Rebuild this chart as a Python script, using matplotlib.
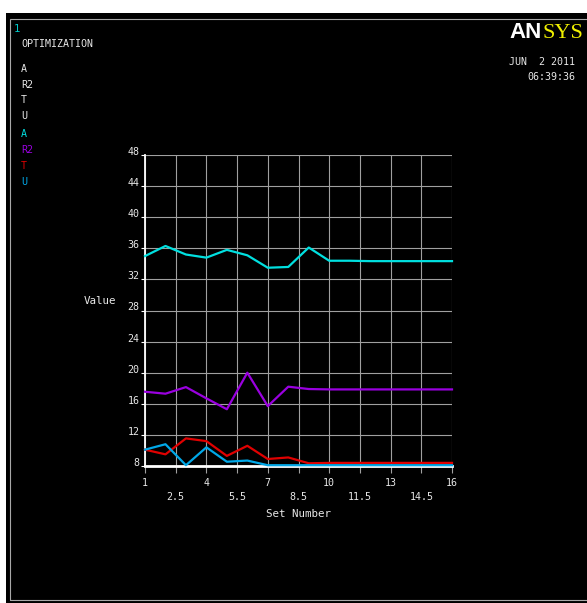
import matplotlib
matplotlib.use("Agg")
import matplotlib.pyplot as plt
from matplotlib.patches import Rectangle

W, H = 587, 603
sets = list(range(1, 17))
A  = [35.0, 36.3, 35.2, 34.8, 35.8, 35.1, 33.5, 33.6, 36.1, 34.4, 34.4, 34.35, 34.35, 34.35, 34.35, 34.35]
R2 = [17.55, 17.3, 18.15, 16.7, 15.3, 20.0, 15.7, 18.2, 17.9, 17.85, 17.85, 17.85, 17.85, 17.85, 17.85, 17.85]
T  = [10.1, 9.5, 11.55, 11.2, 9.3, 10.6, 8.9, 9.1, 8.35, 8.4, 8.4, 8.4, 8.4, 8.4, 8.4, 8.4]
U  = [10.1, 10.8, 8.1, 10.4, 8.55, 8.7, 8.1, 8.1, 8.1, 8.1, 8.1, 8.1, 8.1, 8.1, 8.1, 8.1]
series_names = ["A", "R2", "T", "U"]
series_colors = ["#00e0e0", "#9a00e0", "#e00000", "#00a8e8"]
x_major = [1, 4, 7, 10, 13, 16]
x_minor = [2.5, 5.5, 8.5, 11.5, 14.5]
y_ticks = [8, 12, 16, 20, 24, 28, 32, 36, 40, 44, 48]

MONO = "DejaVu Sans Mono"
FS = 7.2
TXT = "#e8e8e8"

fig = plt.figure(figsize=(W / 100, H / 100), dpi=100, facecolor="white")

def fx(x):
    return x / W

def fy(y):
    return 1 - y / H

# black screen background and thin gray frame
fig.add_artist(Rectangle((fx(6), fy(603)), fx(587) - fx(6), fy(13) - fy(603),
                         transform=fig.transFigure, facecolor="black", edgecolor="none", zorder=0))
fig.add_artist(Rectangle((fx(9.5), fy(600)), fx(600) - fx(9.5), fy(18.5) - fy(600),
                         transform=fig.transFigure, facecolor="none", edgecolor="#a8a8a8",
                         linewidth=0.8, zorder=1))

ax = fig.add_axes([fx(145), fy(466), fx(452) - fx(145), fy(155) - fy(466)])
ax.set_facecolor("black")
data = [A, R2, T, U]
for vals, col in zip(data, series_colors):
    ax.plot(sets, vals, color=col, linewidth=1.6, zorder=3, clip_on=False)

ax.set_xlim(1, 16)
ax.set_ylim(8, 48)
ax.set_xticks(x_major)
ax.set_xticklabels([str(v) for v in x_major])
ax.set_xticks(x_minor, minor=True)
ax.set_xticklabels([str(v) for v in x_minor], minor=True)
ax.set_yticks(y_ticks)
ax.set_yticklabels([str(v) for v in y_ticks])

ax.grid(which="both", color="#a0a0a0", linewidth=0.8, zorder=1)
ax.set_axisbelow(True)
for s in ["top", "right"]:
    ax.spines[s].set_visible(False)
ax.spines["left"].set_color("white")
ax.spines["left"].set_linewidth(1.3)
ax.spines["bottom"].set_color("white")
ax.spines["bottom"].set_linewidth(2.0)
ax.spines["bottom"].set_zorder(2)

ax.tick_params(axis="x", which="both", direction="out", length=5, width=0.8,
               color="#a0a0a0", labelcolor=TXT, labelsize=FS)
ax.tick_params(axis="x", which="major", pad=4)
ax.tick_params(axis="x", which="minor", pad=14)
ax.tick_params(axis="y", direction="out", length=3, width=0.8, color="white",
               labelcolor=TXT, labelsize=FS, pad=1)
for lab in ax.get_xticklabels(which="both") + ax.get_yticklabels():
    lab.set_fontfamily(MONO)
for lab in ax.get_yticklabels():
    lab.set_verticalalignment("baseline")

ax.set_xlabel("Set Number", color=TXT, fontsize=FS + 0.6, fontfamily=MONO, labelpad=4.5)
fig.text(fx(100), fy(301), "Value", color=TXT, fontsize=FS + 0.6, fontfamily=MONO,
         ha="center", va="center")

# header / legend text
fig.text(fx(14), fy(29), "1", color="#00c8c8", fontsize=FS + 0.5, fontfamily=MONO, va="center")
fig.text(fx(21), fy(44), "OPTIMIZATION", color=TXT, fontsize=FS, fontfamily=MONO, va="center")
ys_white = [69, 85, 100, 116]
ys_col = [134, 150, 166, 182]
for name, yy in zip(series_names, ys_white):
    fig.text(fx(21), fy(yy), name, color=TXT, fontsize=FS, fontfamily=MONO, va="center")
for name, yy, col in zip(series_names, ys_col, series_colors):
    fig.text(fx(21), fy(yy), name, color=col, fontsize=FS, fontfamily=MONO, va="center")

# ANSYS logo and date
fig.text(fx(542), fy(33), "AN", color="white", fontsize=16, fontweight="bold",
         fontfamily="Liberation Sans", ha="right", va="center")
fig.text(fx(542), fy(33), "SYS", color="#f0f000", fontsize=16,
         fontfamily="Liberation Serif", ha="left", va="center")
fig.text(fx(575), fy(62), "JUN  2 2011", color=TXT, fontsize=FS, fontfamily=MONO,
         ha="right", va="center")
fig.text(fx(575), fy(77), "06:39:36", color=TXT, fontsize=FS, fontfamily=MONO,
         ha="right", va="center")

fig.savefig("out.png", dpi=100, facecolor="white")
